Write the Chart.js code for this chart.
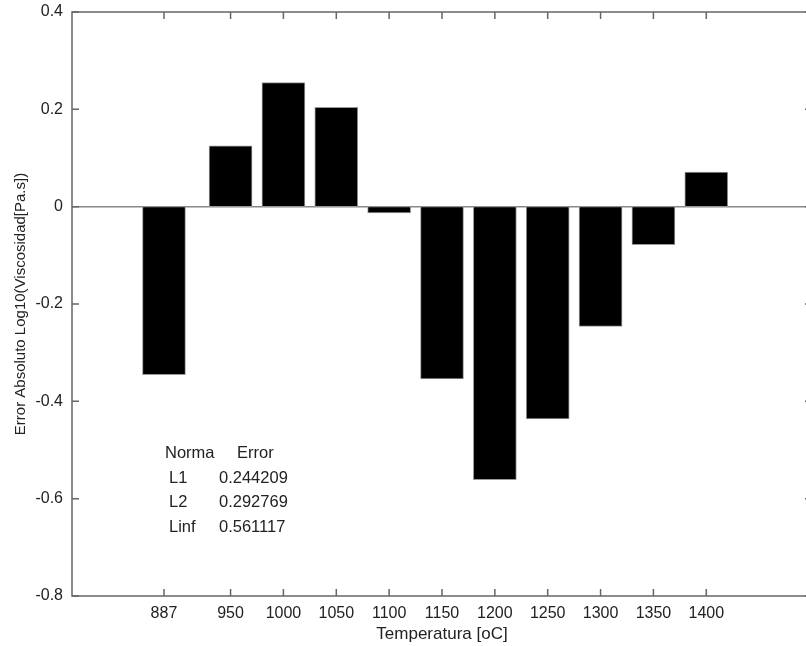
<!DOCTYPE html>
<html>
<head>
<meta charset="utf-8">
<script src="https://cdn.jsdelivr.net/npm/chart.js@4.4.1/dist/chart.umd.min.js"></script>
<style>
  html, body { margin: 0; padding: 0; background: #fff; overflow: hidden; }
  #wrap { width: 820px; height: 646px; }
</style>
</head>
<body>
<div id="wrap"><canvas id="chart" width="820" height="646"></canvas></div>
<script>
// Data
const temperatures = [887, 950, 1000, 1050, 1100, 1150, 1200, 1250, 1300, 1350, 1400];
const errors = [-0.345, 0.125, 0.255, 0.204, -0.013, -0.354, -0.561, -0.436, -0.246, -0.078, 0.071];
const yTicks = [-0.8, -0.6, -0.4, -0.2, 0, 0.2, 0.4];
const normNames = ['L1', 'L2', 'Linf'];
const normValues = ['0.244209', '0.292769', '0.561117'];

const axisColor = '#666';
const fontFamily = '"Liberation Sans", Arial, Helvetica, sans-serif';

/**
 * Draws the boxed frame, inward tick marks, zero line and the norm table
 */
const framePlugin = {
    id: 'frame',
    beforeDatasetsDraw(chart) {
        const { ctx, chartArea: a, scales: { y } } = chart;
        ctx.save();
        // zero line
        ctx.strokeStyle = '#888';
        ctx.lineWidth = 1.5;
        const y0 = y.getPixelForValue(0);
        ctx.beginPath();
        ctx.moveTo(a.left, y0);
        ctx.lineTo(a.right, y0);
        ctx.stroke();
        ctx.restore();
    },
    afterDatasetsDraw(chart) {
        const { ctx, chartArea: a, scales: { x, y } } = chart;
        ctx.save();
        ctx.strokeStyle = axisColor;
        ctx.lineWidth = 1.5;
        ctx.strokeRect(a.left, a.top, a.right - a.left, a.bottom - a.top);

        const tick = 7;
        ctx.beginPath();
        temperatures.forEach(t => {
            const px = x.getPixelForValue(t);
            ctx.moveTo(px, a.bottom);
            ctx.lineTo(px, a.bottom - tick);
            ctx.moveTo(px, a.top);
            ctx.lineTo(px, a.top + tick);
        });
        yTicks.forEach(v => {
            const py = y.getPixelForValue(v);
            ctx.moveTo(a.left, py);
            ctx.lineTo(a.left + tick, py);
            ctx.moveTo(a.right, py);
            ctx.lineTo(a.right - tick, py);
        });
        ctx.stroke();

        // norm table
        ctx.fillStyle = '#222';
        ctx.font = '16.5px ' + fontFamily;
        ctx.textBaseline = 'middle';
        ctx.textAlign = 'left';
        const left = a.left;
        const top = a.top;
        ctx.fillText('Norma', left + 93, top + 441);
        ctx.fillText('Error', left + 165, top + 441);
        normNames.forEach((n, i) => {
            ctx.fillText(n, left + 97, top + 466 + i * 24.5);
            ctx.fillText(normValues[i], left + 147, top + 466 + i * 24.5);
        });
        ctx.restore();
    }
};

const chart = new Chart(document.getElementById('chart'), {
    type: 'bar',
    data: {
        datasets: [{
            data: temperatures.map((t, i) => ({ x: t, y: errors[i] })),
            backgroundColor: '#000',
            borderColor: '#999',
            borderWidth: 1,
            borderSkipped: false,
            barThickness: 43
        }]
    },
    options: {
        responsive: false,
        animation: false,
        layout: { padding: { top: 12, right: 8, left: 0, bottom: 0 } },
        plugins: {
            legend: { display: false },
            tooltip: { enabled: false }
        },
        scales: {
            x: {
                type: 'linear',
                offset: false,
                min: 800,
                max: 1500,
                afterBuildTicks: scale => {
                    scale.ticks = temperatures.map(v => ({ value: v }));
                },
                afterFit: scale => {
                    scale.height = 50;
                    scale.paddingLeft = 0;
                    scale.paddingRight = 0;
                },
                grid: { display: false, drawTicks: false, offset: false },
                border: { display: false },
                ticks: {
                    color: '#222',
                    padding: 8,
                    font: { family: fontFamily, size: 16 },
                    maxRotation: 0,
                    autoSkip: false,
                    callback: v => String(v)
                },
                title: {
                    display: true,
                    text: 'Temperatura [oC]',
                    color: '#222',
                    font: { family: fontFamily, size: 17 },
                    padding: { top: 0, bottom: 1 }
                }
            },
            y: {
                min: -0.8,
                max: 0.4,
                afterBuildTicks: scale => {
                    scale.ticks = yTicks.map(v => ({ value: v }));
                },
                afterFit: scale => {
                    scale.width = 72;
                    scale.paddingTop = 0;
                    scale.paddingBottom = 0;
                },
                grid: { display: false, drawTicks: false },
                border: { display: false },
                ticks: {
                    color: '#222',
                    padding: 9,
                    font: { family: fontFamily, size: 16 },
                    callback: v => (v === 0 ? '0' : v.toFixed(1))
                },
                title: {
                    display: true,
                    text: 'Error Absoluto Log10(Viscosidad[Pa.s])',
                    color: '#222',
                    font: { family: fontFamily, size: 15 },
                    padding: { top: 12, bottom: 0 }
                }
            }
        }
    },
    plugins: [framePlugin]
});
</script>
</body>
</html>
